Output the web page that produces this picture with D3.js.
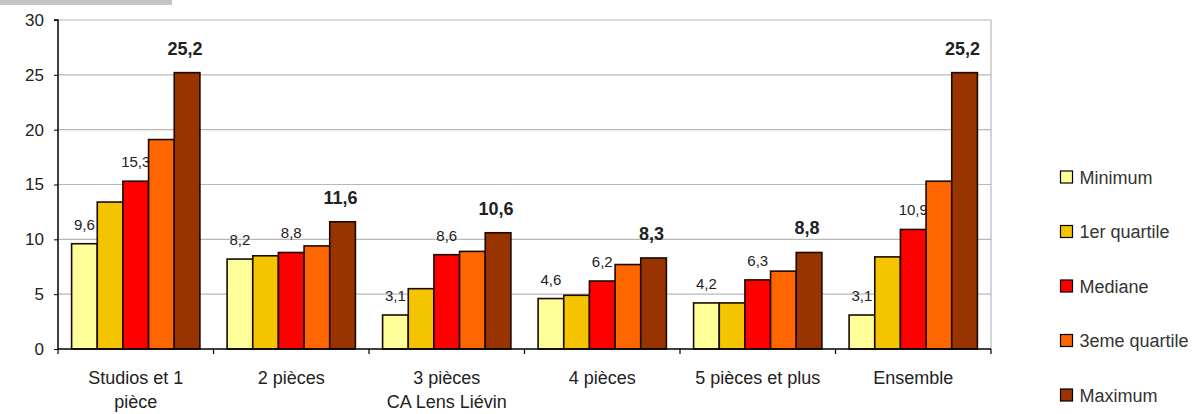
<!DOCTYPE html>
<html>
<head>
<meta charset="utf-8">
<script src="https://cdn.jsdelivr.net/npm/d3@7"></script>
<style>
  body { margin: 0; background: #fff; }
  svg { display: block; font-family: "Liberation Sans", Arial, sans-serif; }
</style>
</head>
<body>
<svg id="chart" width="1201" height="414"></svg>
<script>
// Loyers par typologie de logement
const categories = [["Studios et 1", "pièce"], ["2 pièces"], ["3 pièces"], ["4 pièces"], ["5 pièces et plus"], ["Ensemble"]];
const seriesNames = ["Minimum", "1er quartile", "Mediane", "3eme quartile", "Maximum"];
const minimum   = [9.6, 8.2, 3.1, 4.6, 4.2, 3.1];
const quartile1 = [13.4, 8.5, 5.5, 4.9, 4.2, 8.4];
const mediane   = [15.3, 8.8, 8.6, 6.2, 6.3, 10.9];
const quartile3 = [19.1, 9.4, 8.9, 7.7, 7.1, 15.3];
const maximum   = [25.2, 11.6, 10.6, 8.3, 8.8, 25.2];
const yTicks = [0, 5, 10, 15, 20, 25, 30];
const axisTitle = "CA Lens Liévin";

const seriesValues = [minimum, quartile1, mediane, quartile3, maximum];
const colors = ["#ffff99", "#f5c400", "#ff0000", "#ff6600", "#993300"];
const labelled = [true, false, true, false, true];
const boldLabel = [false, false, false, false, true];

const svg = d3.select("#chart");
const m = { left: 58, right: 991, top: 20, bottom: 349 };

const x0 = d3.scaleBand().domain(d3.range(categories.length)).range([m.left, m.right]).paddingInner(0).paddingOuter(0);
const x1 = d3.scaleBand().domain(d3.range(seriesNames.length)).range([0, x0.bandwidth()]).paddingOuter(0.53).paddingInner(0);
const y = d3.scaleLinear().domain([0, 30]).range([m.bottom, m.top]);

// header band above the chart
svg.append("rect").attr("x", 0).attr("y", 0).attr("width", 172).attr("height", 5).attr("fill", "#c4c4c4");

// gridlines
svg.append("g").selectAll("line").data(yTicks.filter(d => d > 0)).join("line")
  .attr("x1", m.left).attr("x2", m.right)
  .attr("y1", d => y(d)).attr("y2", d => y(d))
  .attr("stroke", "#b8b8b8").attr("stroke-width", 1.2);

// right border
svg.append("line").attr("x1", m.right).attr("x2", m.right).attr("y1", m.top).attr("y2", m.bottom)
  .attr("stroke", "#b8b8b8").attr("stroke-width", 1.2);

// bars and value labels, series by series
seriesValues.forEach((vals, s) => {
  const g = svg.append("g");
  g.selectAll("rect").data(vals).join("rect")
    .attr("x", (d, i) => x0(i) + x1(s))
    .attr("y", d => y(d))
    .attr("width", x1.bandwidth())
    .attr("height", d => y(0) - y(d))
    .attr("fill", colors[s])
    .attr("stroke", "#1a0a00").attr("stroke-width", 1.6);
  if (labelled[s]) {
    g.selectAll("text").data(vals).join("text")
      .attr("x", (d, i) => x0(i) + x1(s) + x1.bandwidth() / 2 - (boldLabel[s] ? 2 : 0))
      .attr("y", d => y(d) - (boldLabel[s] ? 18 : 14))
      .attr("text-anchor", "middle")
      .attr("font-size", boldLabel[s] ? 18 : 15)
      .attr("font-weight", boldLabel[s] ? "bold" : "normal")
      .attr("fill", "#222")
      .text(d => d3.format(".1f")(d).replace(".", ","));
  }
});

// y axis
const yAxis = d3.axisLeft(y).tickValues(yTicks).tickSize(4).tickFormat(d3.format("d"));
const gy = svg.append("g").attr("transform", `translate(${m.left},0)`).call(yAxis);
gy.select(".domain").attr("stroke", "#000").attr("stroke-width", 1.5).attr("d", `M-4,${m.top}H0V${m.bottom}`);
gy.selectAll(".tick line").attr("stroke", "#000");
gy.selectAll(".tick text").attr("font-size", 17).attr("fill", "#222").attr("x", -14)
  .attr("font-family", "Liberation Sans, Arial, sans-serif");

// x axis
const xAxis = d3.axisBottom(x0).tickValues([]).tickSize(0);
const gx = svg.append("g").attr("transform", `translate(0,${m.bottom})`).call(xAxis);
gx.select(".domain").attr("stroke", "#000").attr("stroke-width", 1.5).attr("d", `M${m.left},0H${m.right}`);
gx.selectAll("line.sep").data(d3.range(categories.length + 1)).join("line").attr("class", "sep")
  .attr("x1", i => m.left + i * x0.step()).attr("x2", i => m.left + i * x0.step())
  .attr("y1", 0).attr("y2", 5).attr("stroke", "#000").attr("stroke-width", 1.2);

const catLabels = svg.append("g").selectAll("text").data(categories).join("text")
  .attr("x", (d, i) => x0(i) + x0.bandwidth() / 2)
  .attr("y", 384)
  .attr("text-anchor", "middle").attr("font-size", 18).attr("fill", "#222");
catLabels.selectAll("tspan").data(d => d).join("tspan")
  .attr("x", function() { return this.parentNode.getAttribute("x"); })
  .attr("dy", (d, j) => j === 0 ? 0 : 24)
  .text(d => d);

svg.append("text").attr("x", x0(2) + x0.bandwidth() / 2).attr("y", 408)
  .attr("text-anchor", "middle").attr("font-size", 18).attr("fill", "#222").text(axisTitle);

// legend
const legend = svg.append("g").selectAll("g").data(seriesNames).join("g")
  .attr("transform", (d, i) => `translate(1066.5,${177 + i * 54.5})`);
legend.append("rect").attr("x", -6).attr("y", -6).attr("width", 12).attr("height", 12)
  .attr("fill", (d, i) => colors[i]).attr("stroke", "#000").attr("stroke-width", 1.2);
legend.append("text").attr("x", 13).attr("y", 6.5).attr("font-size", 18).attr("fill", "#333").text(d => d);
</script>
</body>
</html>
